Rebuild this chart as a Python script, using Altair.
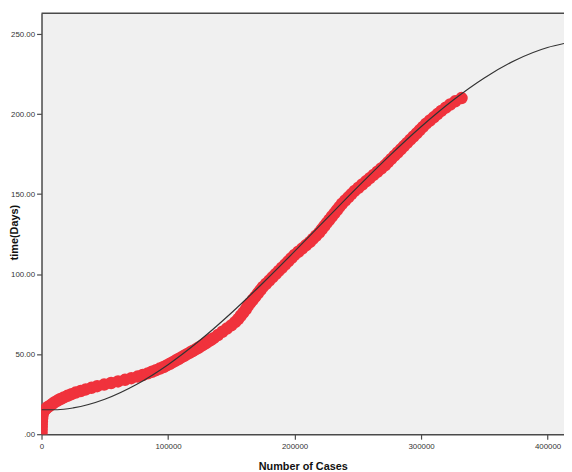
import altair as alt
import pandas as pd

# time (days) and cumulative number of cases
days = [0, 2, 4, 6, 8, 10, 12,
        14, 15, 16, 17, 18, 19, 20, 21, 22, 23, 24, 25, 26, 27, 28, 29,
        30, 31, 32, 33, 34, 35, 36, 37, 38, 39, 40, 41, 42, 43, 44, 45,
        46, 47, 48, 49, 50, 51, 52, 53, 54, 55, 56, 57, 58, 59, 60,
        62, 64, 66, 68, 70, 72, 74, 76, 78,
        80, 82, 84, 86, 88, 90, 92, 94, 96, 98,
        100, 102, 104, 106, 108, 110, 112, 114, 116, 118,
        120, 122, 124, 126, 128, 130, 132, 134, 136, 138,
        140, 142, 144, 146, 148, 150, 152, 154, 156, 158,
        160, 162, 164, 166, 168, 170, 172, 174, 176, 178,
        180, 182, 184, 186, 188, 190, 192, 194, 196, 198,
        200, 202, 204, 206, 208, 210]
cases = [0, 0, 100, 200, 300, 500, 800,
         1500, 2300, 3500, 5000, 7000, 8700, 10500, 12700, 15000, 17700, 20500, 23700, 27000, 31000, 35000, 39500,
         44000, 49500, 55000, 60500, 66000, 71000, 76000, 80000, 84000, 87300, 90500, 93500, 96500, 99000, 101500, 103800,
         106000, 108300, 110500, 112800, 115000, 117300, 119500, 121800, 124000, 126000, 128000, 130000, 132000, 134000, 136000,
         139500, 143000, 146500, 150000, 153000, 155500, 157500, 159500, 161500,
         163000, 165000, 167000, 169000, 171000, 173000, 175000, 177500, 180000, 182500,
         185000, 187500, 190000, 192500, 195000, 197500, 200000, 203000, 206000, 209000,
         212000, 214500, 217000, 219500, 221500, 223500, 225500, 227500, 229500, 231500,
         233500, 235500, 237500, 240000, 242500, 245000, 247500, 250500, 253500, 256500,
         259500, 262500, 265500, 268500, 271500, 274000, 276500, 279000, 281500, 284000,
         286500, 289000, 291500, 294000, 296500, 299000, 301500, 304000, 307000, 310000,
         313000, 316000, 319500, 323000, 327000, 332000]

# fitted (cubic) curve
fit_cases = [0, 12500, 25000, 50000, 75000, 100000, 125000, 150000, 175000, 200000,
             225000, 250000, 275000, 300000, 325000, 350000, 375000, 400000, 413000]
fit_days = [15.3, 15.3, 16.4, 21.8, 31.0, 43.4, 58.5, 75.7, 94.5, 114.2,
            134.4, 154.5, 173.9, 192.1, 208.5, 222.6, 233.8, 241.6, 244.1]

x_ticks = [0, 100000, 200000, 300000, 400000]
y_ticks = [0, 50, 100, 150, 200, 250]

df = pd.DataFrame({"cases": cases, "day": days})
fit_df = pd.DataFrame({"cases": fit_cases, "day": fit_days})

FONT = "Liberation Sans"
AX = "#4a4a4a"

x_scale = alt.Scale(domain=[0, 413000], nice=False, zero=False)
y_scale = alt.Scale(domain=[0, 263], nice=False)

x_axis = alt.Axis(title="Number of Cases", values=x_ticks, format="d", grid=False,
                  domainColor=AX, domainWidth=1.5, tickColor=AX, tickWidth=1.2, tickSize=5,
                  labelFont=FONT, labelFontSize=8, labelColor="#333333", labelPadding=3,
                  labelFlush=False,
                  titleFont=FONT, titleFontSize=11, titleFontWeight="bold", titleColor="#111111",
                  titleY=27)
y_axis = alt.Axis(title="time(Days)", values=y_ticks, grid=False,
                  labelExpr="datum.value == 0 ? '.00' : format(datum.value, '.2f')",
                  domainColor=AX, domainWidth=1.5, tickColor=AX, tickWidth=1.2, tickSize=5,
                  labelFont=FONT, labelFontSize=8, labelColor="#333333", labelPadding=2,
                  titleFont=FONT, titleFontSize=11, titleFontWeight="bold", titleColor="#111111",
                  titleX=-22, titleY=222)

points = alt.Chart(df).mark_circle(size=160, color="#F0323C", opacity=1, clip=True).encode(
    x=alt.X("cases:Q", scale=x_scale, axis=x_axis),
    y=alt.Y("day:Q", scale=y_scale, axis=y_axis),
)

fit = alt.Chart(fit_df).mark_line(color="#333333", strokeWidth=1.2, clip=True,
                                  interpolate="monotone").encode(
    x=alt.X("cases:Q", scale=x_scale),
    y=alt.Y("day:Q", scale=y_scale),
)

top = alt.Chart(pd.DataFrame({"a": [0]})).mark_rule(color=AX, strokeWidth=1.5).encode(
    y=alt.value(0)
)

chart = alt.layer(points, fit, top).properties(
    width=530, height=427,
    padding={"left": 34, "top": 2, "right": 0, "bottom": 35},
    autosize=alt.AutoSizeParams(type="none"),
).configure_view(fill="#F0F0F0", stroke=None)

chart.save("out.html", embed_options={"renderer": "svg", "actions": False})
